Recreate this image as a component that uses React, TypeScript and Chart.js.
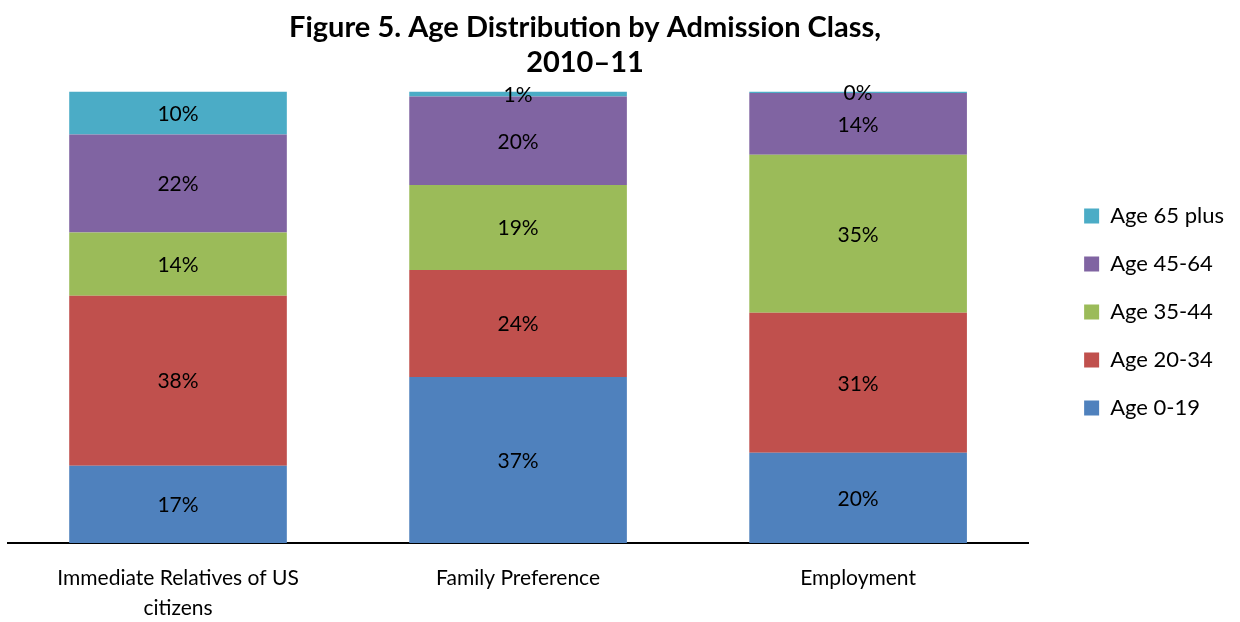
import React, { useEffect, useRef } from "react";
import { Chart, registerables } from "chart.js";

Chart.register(...registerables);

const categories: (string | string[])[] = [
  ["Immediate Relatives of US", "citizens"],
  "Family Preference",
  "Employment",
];
const seriesNames = ["Age 0-19", "Age 20-34", "Age 35-44", "Age 45-64", "Age 65 plus"];
const age0to19 = [17.1, 36.8, 20.0];
const age20to34 = [37.7, 23.7, 31.0];
const age35to44 = [14.0, 18.8, 35.0];
const age45to64 = [21.7, 19.6, 13.7];
const age65plus = [9.5, 1.1, 0.3];
const seriesColors = ["#4F81BD", "#C0504D", "#9BBB59", "#8064A2", "#4BACC6"];
const titleLines = ["Figure 5. Age Distribution by Admission Class,", "2010\u201311"];

const FONT = "Lato, 'Open Sans', sans-serif";

const labelPlugin = {
  id: "segmentLabels",
  afterDatasetsDraw(chart: any) {
    const ctx = chart.ctx;
    ctx.save();
    ctx.font = `21px ${FONT}`;
    ctx.fillStyle = "#000";
    ctx.textAlign = "center";
    ctx.textBaseline = "middle";
    chart.data.datasets.forEach((ds: any, di: number) => {
      const meta = chart.getDatasetMeta(di);
      meta.data.forEach((el: any, i: number) => {
        const v = ds.data[i];
        const y = (el.y + el.base) / 2;
        ctx.fillText(`${Math.round(v)}%`, el.x, y + 1);
      });
    });
    ctx.restore();
  },
};

const boxShift = {
  id: "boxShift",
  afterLayout(chart: any) {
    const t = chart.titleBlock;
    if (t) {
      t.left = 0;
      t.right = 1170;
    }
    const l = chart.legend;
    if (l) {
      l.top -= 4;
      l.bottom -= 4;
    }
  },
};

export default function App() {
  const ref = useRef<HTMLCanvasElement>(null);
  useEffect(() => {
    const values = [age0to19, age20to34, age35to44, age45to64, age65plus];
    const chart = new Chart(ref.current!, {
      type: "bar",
      data: {
        labels: categories,
        datasets: seriesNames.map((name, i) => ({
          label: name,
          data: values[i],
          backgroundColor: seriesColors[i],
          borderWidth: 0,
          categoryPercentage: 1,
          barPercentage: 0.64,
        })),
      },
      options: {
        animation: false,
        responsive: true,
        maintainAspectRatio: false,
        layout: { padding: { left: 8, right: 6, top: 10, bottom: 0 } },
        plugins: {
          title: {
            display: true,
            text: titleLines,
            color: "#000",
            font: { family: FONT, size: 29, weight: "bold", lineHeight: 1.2 },
            padding: { top: 0, bottom: 12 },
          },
          legend: {
            position: "right",
            reverse: true,
            labels: {
              boxWidth: 15,
              boxHeight: 15,
              padding: 26,
              color: "#000",
              font: { family: FONT, size: 22 },
            },
          },
          tooltip: { enabled: false },
        },
        scales: {
          x: {
            stacked: true,
            grid: { display: false, drawTicks: false },
            border: { display: true, color: "#000", width: 2 },
            ticks: {
              color: "#000",
              padding: 20,
              font: { family: FONT, size: 21, lineHeight: 1.43 },
              maxRotation: 0,
            },
            afterFit(scale: any) {
              scale.height = 79;
            },
          },
          y: {
            stacked: true,
            display: false,
            min: 0,
            max: 100,
          },
          yR: {
            position: "right",
            display: true,
            min: 0,
            max: 100,
            grid: { display: false, drawTicks: false },
            border: { display: false },
            ticks: { display: false },
            afterFit(scale: any) {
              scale.width = 30;
            },
          },
        },
      },
      plugins: [labelPlugin, boxShift],
    });
    return () => chart.destroy();
  }, []);
  return (
    <div style={{ position: "fixed", left: 0, top: 0, width: 1240, height: 622, background: "#fff" }}>
      <canvas ref={ref} />
    </div>
  );
}
